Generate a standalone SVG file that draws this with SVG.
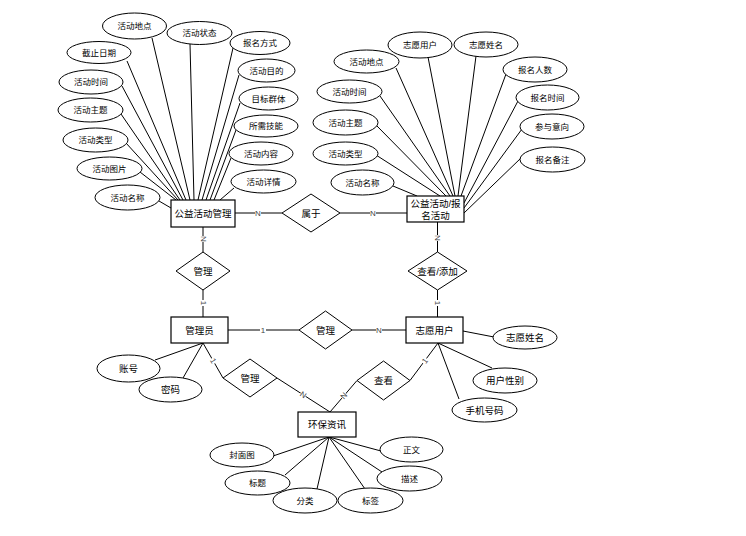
<svg xmlns="http://www.w3.org/2000/svg" width="746" height="536" viewBox="0 0 746 536">
<style>
  .ln{stroke:#000;stroke-width:1;fill:none}
  .el{fill:#fff;stroke:#000;stroke-width:1}
  .en{fill:#fff;stroke:#000;stroke-width:1.2}
  .dm{fill:#fff;stroke:#000;stroke-width:1}
  text{font-family:"Liberation Sans","Noto Sans CJK SC",sans-serif;text-anchor:middle;dominant-baseline:central;fill:#000}
  .a{font-size:8.5px}
  .b{font-size:9.5px}
  .k{font-size:8px;fill:#444}
  .kb{fill:#fff}
</style>
<rect width="746" height="536" fill="#fff"/>
<g id="connectors">
  <!-- attribute lines: 公益活动管理 -->
  <line class="ln" x1="152" y1="38" x2="190" y2="200"/>
  <line class="ln" x1="190" y1="44" x2="194" y2="200"/>
  <line class="ln" x1="127" y1="61" x2="186" y2="200"/>
  <line class="ln" x1="122" y1="86" x2="183" y2="200"/>
  <line class="ln" x1="121" y1="114" x2="180" y2="200"/>
  <line class="ln" x1="126" y1="143" x2="178" y2="200"/>
  <line class="ln" x1="140" y1="172" x2="176" y2="200"/>
  <line class="ln" x1="159" y1="201" x2="171" y2="208"/>
  <line class="ln" x1="233" y1="48" x2="198" y2="200"/>
  <line class="ln" x1="239" y1="75" x2="202" y2="200"/>
  <line class="ln" x1="240" y1="103" x2="206" y2="200"/>
  <line class="ln" x1="236" y1="130" x2="210" y2="200"/>
  <line class="ln" x1="231" y1="158" x2="214" y2="200"/>
  <line class="ln" x1="234" y1="188" x2="220" y2="200"/>
  <!-- attribute lines: 公益活动/报名活动 -->
  <line class="ln" x1="396" y1="68" x2="453" y2="196"/>
  <line class="ln" x1="428" y1="57" x2="455" y2="196"/>
  <line class="ln" x1="476" y1="56" x2="458" y2="196"/>
  <line class="ln" x1="380" y1="96" x2="450" y2="196"/>
  <line class="ln" x1="377" y1="126" x2="446" y2="196"/>
  <line class="ln" x1="376" y1="155" x2="440" y2="196"/>
  <line class="ln" x1="393" y1="186" x2="417" y2="196"/>
  <line class="ln" x1="506" y1="74" x2="461" y2="196"/>
  <line class="ln" x1="518" y1="101" x2="464" y2="203"/>
  <line class="ln" x1="522" y1="129" x2="464" y2="208"/>
  <line class="ln" x1="521" y1="158" x2="464" y2="213"/>
  <!-- attribute lines: 志愿用户 -->
  <line class="ln" x1="463" y1="331" x2="494" y2="337"/>
  <line class="ln" x1="438" y1="343" x2="492" y2="368"/>
  <line class="ln" x1="438" y1="343" x2="459" y2="399"/>
  <!-- attribute lines: 管理员 -->
  <line class="ln" x1="203" y1="343" x2="155" y2="360"/>
  <line class="ln" x1="203" y1="343" x2="183" y2="378"/>
  <!-- attribute lines: 环保资讯 -->
  <line class="ln" x1="329" y1="437" x2="273" y2="456"/>
  <line class="ln" x1="329" y1="437" x2="285" y2="475"/>
  <line class="ln" x1="329" y1="437" x2="317" y2="489"/>
  <line class="ln" x1="329" y1="437" x2="365" y2="489"/>
  <line class="ln" x1="329" y1="437" x2="382" y2="472"/>
  <line class="ln" x1="329" y1="437" x2="381" y2="451"/>
  <!-- relationship lines -->
  <line class="ln" x1="235" y1="213" x2="282" y2="213"/>
  <line class="ln" x1="340" y1="213" x2="407" y2="213"/>
  <line class="ln" x1="203" y1="227" x2="203" y2="252"/>
  <line class="ln" x1="203" y1="290" x2="203" y2="317"/>
  <line class="ln" x1="437.5" y1="222" x2="437.5" y2="252"/>
  <line class="ln" x1="437.5" y1="290" x2="437.5" y2="317"/>
  <line class="ln" x1="228" y1="330" x2="299" y2="330"/>
  <line class="ln" x1="352" y1="330" x2="406" y2="330"/>
  <line class="ln" x1="203" y1="343" x2="223" y2="378"/>
  <line class="ln" x1="277" y1="378" x2="330" y2="412"/>
  <line class="ln" x1="438" y1="343" x2="410" y2="380.5"/>
  <line class="ln" x1="357" y1="380.5" x2="330" y2="412"/>
  <!-- cardinality labels -->
  <g transform="translate(258,213)"><rect class="kb" x="-3" y="-4" width="6" height="8"/><text class="k">N</text></g>
  <g transform="translate(373,213)"><rect class="kb" x="-3" y="-4" width="6" height="8"/><text class="k">N</text></g>
  <g transform="translate(203,239) rotate(90)"><rect class="kb" x="-3" y="-4" width="6" height="8"/><text class="k">N</text></g>
  <g transform="translate(203,303) rotate(90)"><rect class="kb" x="-3" y="-4" width="6" height="8"/><text class="k">1</text></g>
  <g transform="translate(437.5,238) rotate(90)"><rect class="kb" x="-3" y="-4" width="6" height="8"/><text class="k">N</text></g>
  <g transform="translate(437.5,303) rotate(90)"><rect class="kb" x="-3" y="-4" width="6" height="8"/><text class="k">1</text></g>
  <g transform="translate(263,330)"><rect class="kb" x="-3" y="-4" width="6" height="8"/><text class="k">1</text></g>
  <g transform="translate(379,330)"><rect class="kb" x="-3" y="-4" width="6" height="8"/><text class="k">N</text></g>
  <g transform="translate(213,361) rotate(60)"><rect class="kb" x="-3" y="-4" width="6" height="8"/><text class="k">1</text></g>
  <g transform="translate(303,395) rotate(33)"><rect class="kb" x="-3" y="-4" width="6" height="8"/><text class="k">N</text></g>
  <g transform="translate(425,361) rotate(-53)"><rect class="kb" x="-3" y="-4" width="6" height="8"/><text class="k">1</text></g>
  <g transform="translate(344,396) rotate(-49)"><rect class="kb" x="-3" y="-4" width="6" height="8"/><text class="k">N</text></g>
</g>

<!-- entities -->
<g id="e-gongyi-guanli"><rect class="en" x="171" y="200" width="64" height="27"/><text class="b" x="203" y="213.5">公益活动管理</text></g>
<g id="e-gongyi-baoming"><rect class="en" x="407" y="196" width="57" height="26"/><text class="b" x="435.5" y="203">公益活动/报</text><text class="b" x="435.5" y="215">名活动</text></g>
<g id="e-guanliyuan"><rect class="en" x="171" y="317" width="57" height="26"/><text class="b" x="199.5" y="330">管理员</text></g>
<g id="e-zhiyuan"><rect class="en" x="406" y="317" width="57" height="26"/><text class="b" x="434.5" y="330">志愿用户</text></g>
<g id="e-huanbao"><rect class="en" x="298" y="412" width="58" height="25"/><text class="b" x="327" y="424.5">环保资讯</text></g>

<!-- relationships -->
<g id="r-shuyu"><polygon class="dm" points="282,213 311,194 340,213 311,232"/><text class="b" x="311" y="213">属于</text></g>
<g id="r-guanli1"><polygon class="dm" points="176,271 203,252 230,271 203,290"/><text class="b" x="203" y="271">管理</text></g>
<g id="r-chakan-tianjia"><polygon class="dm" points="408,271 437.5,252 467,271 437.5,290"/><text class="b" x="437.5" y="271">查看/添加</text></g>
<g id="r-guanli2"><polygon class="dm" points="299,330 325.5,311 352,330 325.5,349"/><text class="b" x="325.5" y="330">管理</text></g>
<g id="r-guanli3"><polygon class="dm" points="223,378 250,359 277,378 250,397"/><text class="b" x="250" y="378">管理</text></g>
<g id="r-chakan"><polygon class="dm" points="357,380.5 383.5,361 410,380.5 383.5,400"/><text class="b" x="383.5" y="380.5">查看</text></g>

<!-- attributes of 公益活动管理 -->
<g id="a1-didian"><ellipse class="el" cx="134.5" cy="26" rx="32" ry="13"/><text class="a" x="134.5" y="26">活动地点</text></g>
<g id="a1-zhuangtai"><ellipse class="el" cx="199.5" cy="33" rx="32.5" ry="11.5"/><text class="a" x="199.5" y="33">活动状态</text></g>
<g id="a1-jiezhi"><ellipse class="el" cx="99" cy="52.5" rx="32" ry="11"/><text class="a" x="99" y="52.5">截止日期</text></g>
<g id="a1-baomingfangshi"><ellipse class="el" cx="260" cy="43" rx="30" ry="11.5"/><text class="a" x="260" y="43">报名方式</text></g>
<g id="a1-shijian"><ellipse class="el" cx="91" cy="82" rx="32" ry="12"/><text class="a" x="91" y="82">活动时间</text></g>
<g id="a1-mudi"><ellipse class="el" cx="266.5" cy="70.5" rx="28.5" ry="11.5"/><text class="a" x="266.5" y="70.5">活动目的</text></g>
<g id="a1-zhuti"><ellipse class="el" cx="90.5" cy="110" rx="32.5" ry="12"/><text class="a" x="90.5" y="110">活动主题</text></g>
<g id="a1-qunti"><ellipse class="el" cx="268.5" cy="98.5" rx="29.5" ry="11.5"/><text class="a" x="268.5" y="98.5">目标群体</text></g>
<g id="a1-leixing"><ellipse class="el" cx="95.5" cy="140" rx="32.5" ry="12"/><text class="a" x="95.5" y="140">活动类型</text></g>
<g id="a1-jineng"><ellipse class="el" cx="266" cy="126" rx="32" ry="11"/><text class="a" x="266" y="126">所需技能</text></g>
<g id="a1-tupian"><ellipse class="el" cx="109.5" cy="168.5" rx="32.5" ry="11.5"/><text class="a" x="109.5" y="168.5">活动图片</text></g>
<g id="a1-neirong"><ellipse class="el" cx="261" cy="153.5" rx="32" ry="11.5"/><text class="a" x="261" y="153.5">活动内容</text></g>
<g id="a1-mingcheng"><ellipse class="el" cx="127.5" cy="197.5" rx="32.5" ry="12.5"/><text class="a" x="127.5" y="197.5">活动名称</text></g>
<g id="a1-xiangqing"><ellipse class="el" cx="263.5" cy="181.5" rx="32.5" ry="11.5"/><text class="a" x="263.5" y="181.5">活动详情</text></g>

<!-- attributes of 公益活动/报名活动 -->
<g id="a2-didian"><ellipse class="el" cx="366.5" cy="61.5" rx="32.5" ry="11.5"/><text class="a" x="366.5" y="61.5">活动地点</text></g>
<g id="a2-yonghu"><ellipse class="el" cx="420" cy="45" rx="32" ry="13"/><text class="a" x="420" y="45">志愿用户</text></g>
<g id="a2-xingming"><ellipse class="el" cx="486" cy="44.5" rx="32" ry="12.5"/><text class="a" x="486" y="44.5">志愿姓名</text></g>
<g id="a2-renshu"><ellipse class="el" cx="535" cy="69.5" rx="32" ry="12.5"/><text class="a" x="535" y="69.5">报名人数</text></g>
<g id="a2-shijian"><ellipse class="el" cx="349.5" cy="91.5" rx="32.5" ry="11.5"/><text class="a" x="349.5" y="91.5">活动时间</text></g>
<g id="a2-baomingshijian"><ellipse class="el" cx="547.5" cy="97.5" rx="31.5" ry="12.5"/><text class="a" x="547.5" y="97.5">报名时间</text></g>
<g id="a2-zhuti"><ellipse class="el" cx="345.5" cy="122.5" rx="32.5" ry="12.5"/><text class="a" x="345.5" y="122.5">活动主题</text></g>
<g id="a2-yixiang"><ellipse class="el" cx="552" cy="126.5" rx="32" ry="12.5"/><text class="a" x="552" y="126.5">参与意向</text></g>
<g id="a2-leixing"><ellipse class="el" cx="345.5" cy="153.5" rx="32.5" ry="11.5"/><text class="a" x="345.5" y="153.5">活动类型</text></g>
<g id="a2-beizhu"><ellipse class="el" cx="552.5" cy="159.5" rx="32.5" ry="12.5"/><text class="a" x="552.5" y="159.5">报名备注</text></g>
<g id="a2-mingcheng"><ellipse class="el" cx="362.5" cy="182.5" rx="31.5" ry="12.5"/><text class="a" x="362.5" y="182.5">活动名称</text></g>

<!-- attributes of 志愿用户 -->
<g id="a3-xingming"><ellipse class="el" cx="525" cy="337.5" rx="32" ry="11.5"/><text class="b" x="525" y="337.5">志愿姓名</text></g>
<g id="a3-xingbie"><ellipse class="el" cx="505" cy="380.5" rx="32" ry="12.5"/><text class="b" x="505" y="380.5">用户性别</text></g>
<g id="a3-shouji"><ellipse class="el" cx="484.5" cy="410" rx="32.5" ry="12"/><text class="b" x="484.5" y="410">手机号码</text></g>

<!-- attributes of 管理员 -->
<g id="a4-zhanghao"><ellipse class="el" cx="128.5" cy="368.5" rx="31.5" ry="13.5"/><text class="b" x="128.5" y="368.5">账号</text></g>
<g id="a4-mima"><ellipse class="el" cx="170.5" cy="389.5" rx="31.5" ry="12.5"/><text class="b" x="170.5" y="389.5">密码</text></g>

<!-- attributes of 环保资讯 -->
<g id="a5-fengmian"><ellipse class="el" cx="242" cy="455" rx="32" ry="12"/><text class="a" x="242" y="455">封面图</text></g>
<g id="a5-biaoti"><ellipse class="el" cx="257.5" cy="483" rx="32.5" ry="12"/><text class="a" x="257.5" y="483">标题</text></g>
<g id="a5-fenlei"><ellipse class="el" cx="305" cy="500.5" rx="32" ry="12.5"/><text class="a" x="305" y="500.5">分类</text></g>
<g id="a5-biaoqian"><ellipse class="el" cx="370.5" cy="500.5" rx="32.5" ry="12.5"/><text class="a" x="370.5" y="500.5">标签</text></g>
<g id="a5-zhengwen"><ellipse class="el" cx="411.5" cy="449.5" rx="31.5" ry="12.5"/><text class="a" x="411.5" y="449.5">正文</text></g>
<g id="a5-miaoshu"><ellipse class="el" cx="409.5" cy="478.5" rx="32.5" ry="12.5"/><text class="a" x="409.5" y="478.5">描述</text></g>
</svg>
